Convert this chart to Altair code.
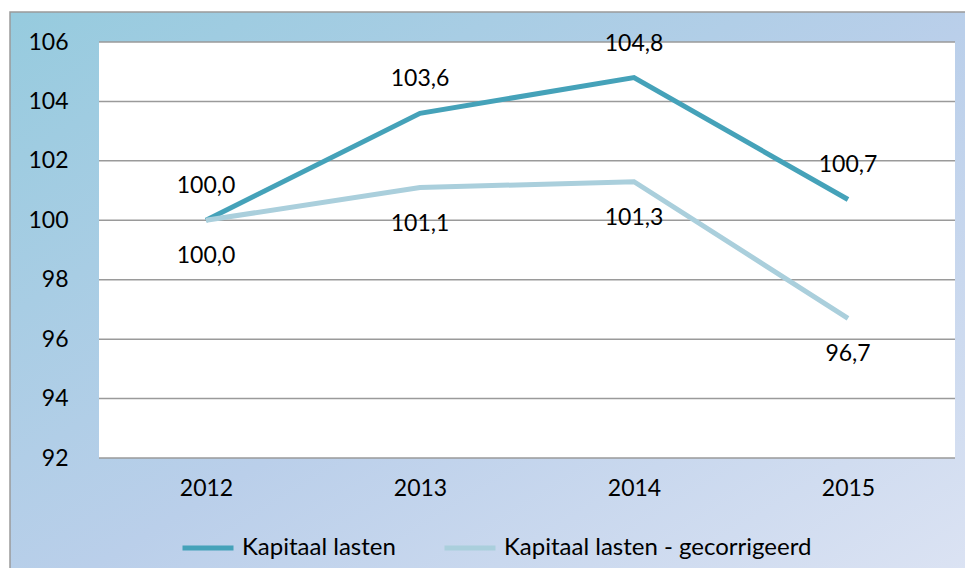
import altair as alt
import pandas as pd

years = ["2012", "2013", "2014", "2015"]
series_names = ["Kapitaal lasten", "Kapitaal lasten - gecorrigeerd"]
kapitaal = [100.0, 103.6, 104.8, 100.7]
gecorrigeerd = [100.0, 101.1, 101.3, 96.7]
y_ticks = [92, 94, 96, 98, 100, 102, 104, 106]
colors = ["#45A2B9", "#AACFDC"]

FONT = "Lato"
FS = 23
W, H = 856, 416

rows = []
for name, vals in zip(series_names, [kapitaal, gecorrigeerd]):
    for yr, v in zip(years, vals):
        rows.append({"year": yr, "value": v, "series": name,
                     "label": f"{v:.1f}".replace(".", ",")})
df = pd.DataFrame(rows)
grid_df = pd.DataFrame({"tick": y_ticks})

xscale = alt.Scale(type="point", domain=years, padding=0.5)
yscale = alt.Scale(domain=[92, 106], zero=False, nice=False)

one = alt.Data(values=[{}])

bg = alt.Chart(one).mark_rect(
    color=alt.LinearGradient(
        gradient="linear", x1=0, y1=0, x2=1, y2=1,
        stops=[alt.GradientStop(color="#96CBDE", offset=0),
               alt.GradientStop(color="#BACFEA", offset=0.5),
               alt.GradientStop(color="#DFE5F4", offset=1)]),
    stroke="#9a9a9a", strokeWidth=1.5,
).encode(x=alt.value(-89), x2=alt.value(W + 40), y=alt.value(-30), y2=alt.value(H + 160))

plot_bg = alt.Chart(one).mark_rect(color="white").encode(
    x=alt.value(0), x2=alt.value(W), y=alt.value(0), y2=alt.value(H))

grid = alt.Chart(grid_df).mark_rule(color="#9a9a9a", strokeWidth=1.5).encode(
    y=alt.Y("tick:Q", scale=yscale), x=alt.value(0), x2=alt.value(W))

lines = alt.Chart(df).mark_line(strokeWidth=5).encode(
    x=alt.X("year:O", scale=xscale,
            axis=alt.Axis(title=None, labelFont=FONT, labelFontSize=FS, labelColor="black",
                          ticks=False, tickSize=0, domain=False, grid=False,
                          labelPadding=19, labelAngle=0, zindex=1)),
    y=alt.Y("value:Q", scale=yscale,
            axis=alt.Axis(title=None, values=y_ticks, labelFont=FONT, labelFontSize=FS,
                          labelColor="black", ticks=False, tickSize=0, domain=False,
                          grid=False, labelPadding=31, zindex=1)),
    color=alt.Color("series:N",
                    scale=alt.Scale(domain=series_names, range=colors),
                    legend=alt.Legend(title=None, orient="none", legendX=81, legendY=478,
                                      direction="horizontal", symbolType="stroke",
                                      symbolStrokeWidth=5, symbolSize=2601,
                                      labelFont=FONT, labelFontSize=24, labelColor="black",
                                      labelOffset=6, columnPadding=38, labelLimit=400)),
)

text_top = alt.Chart(df).transform_filter(
    alt.datum.series == series_names[0]
).mark_text(font=FONT, fontSize=FS, color="black", dy=-34, baseline="middle").encode(
    x=alt.X("year:O", scale=xscale), y=alt.Y("value:Q", scale=yscale), text="label:N")

text_bot = alt.Chart(df).transform_filter(
    alt.datum.series == series_names[1]
).mark_text(font=FONT, fontSize=FS, color="black", dy=36, baseline="middle").encode(
    x=alt.X("year:O", scale=xscale), y=alt.Y("value:Q", scale=yscale), text="label:N")

chart = alt.layer(bg, plot_bg, grid, lines, text_top, text_bot).properties(
    width=W, height=H,
    autosize=alt.AutoSizeParams(type="none"),
    padding={"left": 91, "top": 34, "right": 10, "bottom": 110},
).configure_view(stroke=None)

chart.save("out.html", embed_options={"renderer": "svg", "actions": False})
